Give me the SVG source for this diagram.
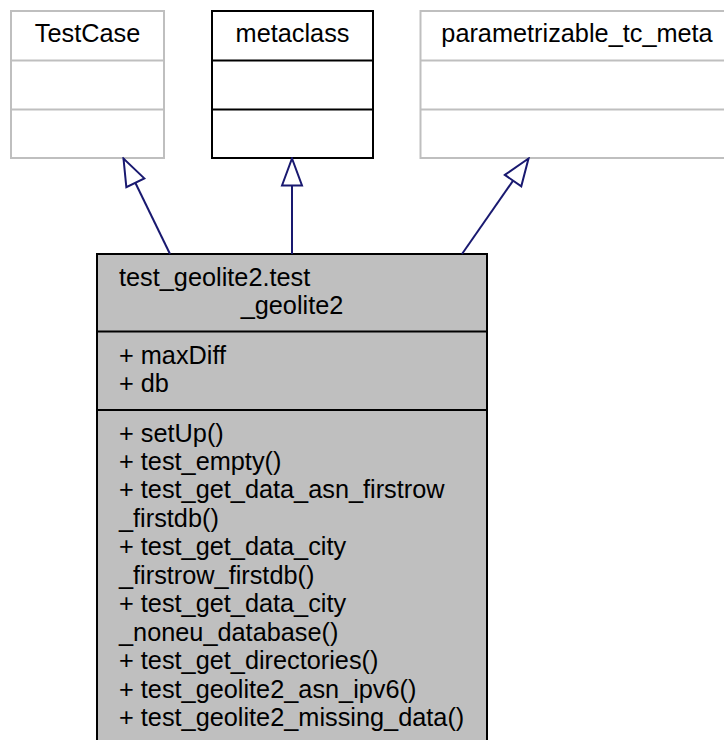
<svg xmlns="http://www.w3.org/2000/svg" width="724" height="740" viewBox="0 0 724 740">
<style>
text{font-family:"Liberation Sans",Arial,Helvetica,sans-serif;font-size:25.3px;fill:#000}
.c{text-anchor:middle}
.ext rect,.ext line{stroke:#bfbfbf;stroke-width:2;fill:#fff}
.blk rect,.blk line{stroke:#000;stroke-width:2;fill:#fff}
.main rect{fill:#bfbfbf;stroke:#000;stroke-width:2}
.main line{stroke:#000;stroke-width:2}
.edge{stroke:#191970;stroke-width:2;fill:none;marker-end:url(#tri)}
</style>
<defs>
<marker id="tri" markerUnits="userSpaceOnUse" viewBox="-2 -2 31 24" refX="27" refY="10" markerWidth="31" markerHeight="24" orient="auto">
<path d="M0,0 L27,10 L0,20 Z" fill="#fff" stroke="#191970" stroke-width="2"/>
</marker>
</defs>
<rect width="724" height="740" fill="#fff"/>
<g id="TestCase" class="ext">
<rect x="11" y="11" width="153" height="147"/>
<line x1="11" y1="60.5" x2="164" y2="60.5"/>
<line x1="11" y1="109.5" x2="164" y2="109.5"/>
<text class="c" x="87.5" y="42">TestCase</text>
</g>
<g id="metaclass" class="blk">
<rect x="212" y="11" width="161" height="147"/>
<line x1="212" y1="60.5" x2="373" y2="60.5"/>
<line x1="212" y1="109.5" x2="373" y2="109.5"/>
<text class="c" x="292.5" y="42">metaclass</text>
</g>
<g id="parametrizable_tc_meta" class="ext">
<rect x="420.5" y="11" width="313" height="147"/>
<line x1="420.5" y1="60.5" x2="733.5" y2="60.5"/>
<line x1="420.5" y1="109.5" x2="733.5" y2="109.5"/>
<text class="c" x="577" y="42">parametrizable_tc_meta</text>
</g>
<g id="test_geolite2" class="main">
<rect x="97" y="254" width="390" height="500"/>
<line x1="97" y1="331.5" x2="487" y2="331.5"/>
<line x1="97" y1="410" x2="487" y2="410"/>
<text x="119" y="286">test_geolite2.test</text>
<text class="c" x="292" y="314">_geolite2</text>
<text x="119" y="364">+ maxDiff</text>
<text x="119" y="392.4">+ db</text>
<text x="119" y="441.5">+ setUp()</text>
<text x="119" y="469.9">+ test_empty()</text>
<text x="119" y="498.4">+ test_get_data_asn_firstrow</text>
<text x="119" y="526.8">_firstdb()</text>
<text x="119" y="555.3">+ test_get_data_city</text>
<text x="119" y="583.7">_firstrow_firstdb()</text>
<text x="119" y="612.2">+ test_get_data_city</text>
<text x="119" y="640.6">_noneu_database()</text>
<text x="119" y="669.1">+ test_get_directories()</text>
<text x="119" y="697.5">+ test_geolite2_asn_ipv6()</text>
<text x="119" y="726">+ test_geolite2_missing_data()</text>
</g>
<g id="edges">
<path class="edge" d="M170,254 L123.5,158.5"/>
<path class="edge" d="M292,254 L292,158.5"/>
<path class="edge" d="M462,254 L528.5,158.5"/>
</g>
</svg>
